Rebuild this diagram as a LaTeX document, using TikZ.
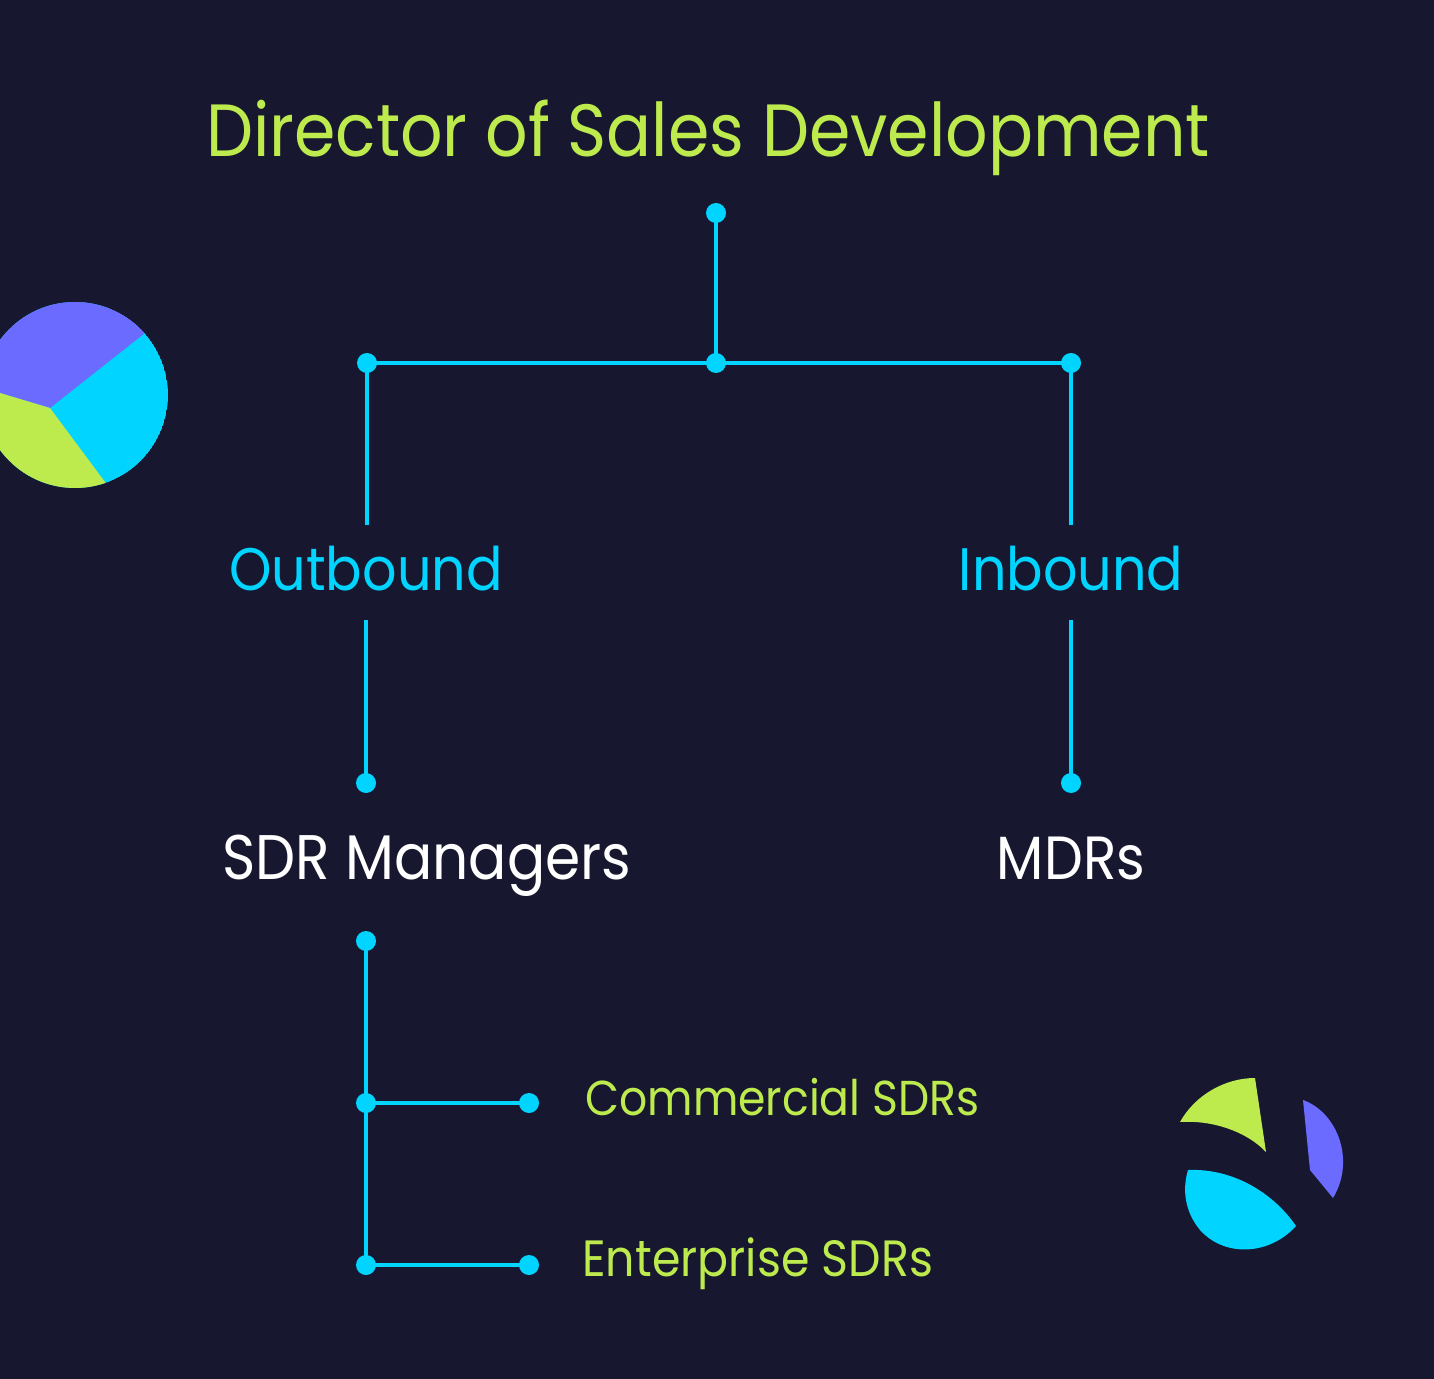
\documentclass[tikz,border=0pt]{standalone}
\usepackage{fontspec}
\setmainfont{Poppins}[FakeStretch=0.9]
\definecolor{bg}{HTML}{171730}
\definecolor{lime}{HTML}{BDEB4E}
\definecolor{cy}{HTML}{00D4FF}
\definecolor{pu}{HTML}{6B6BFF}
\tikzset{dotn/.style={circle,fill=cy,inner sep=0pt,minimum size=10pt},
 ln/.style={cy,line width=2pt},
 tl/.style={text=lime,inner sep=0pt},
 tc/.style={text=cy,inner sep=0pt},
 tw/.style={text=white,inner sep=0pt}}
\begin{document}
\begin{tikzpicture}[x=0.5pt,y=-0.5pt]
\fill[bg] (0,0) rectangle (1434,1379);
\useasboundingbox (0,0) rectangle (1434,1379);
% top-left pie
\begin{scope}
\clip (75,395) circle (93);
\fill[cy] (75,395) circle (93);
\fill[pu] (50,408) -- (145,333) -- (160,280) -- (-30,280) -- (-30,380) -- (0,393) -- cycle;
\fill[lime] (50,408) -- (0,393) -- (-30,380) -- (-30,520) -- (120,520) -- (105,482) -- cycle;
\end{scope}
% bottom-right fragments
\fill[lime] (1180,1122) .. controls (1195,1095) and (1225,1078) .. (1255,1078) -- (1266,1152) .. controls (1245,1130) and (1210,1120) .. cycle;
\fill[pu] (1303,1100) .. controls (1337,1112) and (1356,1160) .. (1333,1198) -- (1310,1170) -- cycle;
\fill[cy] (1188,1170) .. controls (1235,1168) and (1275,1195) .. (1296,1226) .. controls (1270,1255) and (1225,1258) .. (1200,1230) .. controls (1185,1212) and (1182,1190) .. cycle;
% texts
\node[tl,font=\fontsize{37}{44}\selectfont,anchor=base] (dir) at (708,157) {Director of Sales Development};
\node[tc,font=\fontsize{30}{36}\selectfont,anchor=base] (out) at (366,590) {Outbound};
\node[tc,font=\fontsize{30}{36}\selectfont,anchor=base] (inb) at (1071,590) {Inbound};
\node[tw,font=\fontsize{31.5}{36}\selectfont,anchor=base west] (sdr) at (222,879) {SDR Managers};
\node[tw,font=\fontsize{30.5}{36}\selectfont,anchor=base] (mdr) at (1071,879) {MDRs};
\node[tl,font=\fontsize{24.5}{30}\selectfont,anchor=base west] (com) at (585,1115) {Commercial SDRs};
\node[tl,font=\fontsize{25.5}{30}\selectfont,anchor=base west] (ent) at (582,1276) {Enterprise SDRs};
% dots
\node[dotn] (d0) at (716,213) {};
\node[dotn] (dm) at (716,363) {};
\node[dotn] (dl) at (367,363) {};
\node[dotn] (dr) at (1071,363) {};
\coordinate (ol) at (367,525);
\coordinate (or) at (1071,525);
\coordinate (ul) at (366,620);
\coordinate (ur) at (1071,620);
\node[dotn] (sl) at (366,783) {};
\node[dotn] (sr) at (1071,783) {};
\node[dotn] (b0) at (366,941) {};
\node[dotn] (b1) at (366,1103) {};
\node[dotn] (b2) at (366,1265) {};
\node[dotn] (c1) at (529,1103) {};
\node[dotn] (c2) at (529,1265) {};
\draw[ln] (d0.center) -- (dm.center);
\draw[ln] (dl.center) -- (dr.center);
\draw[ln] (dl.center) -- (ol);
\draw[ln] (dr.center) -- (or);
\draw[ln] (ul) -- (sl.center);
\draw[ln] (ur) -- (sr.center);
\draw[ln] (b0.center) -- (b2.center);
\draw[ln] (b1.center) -- (c1.center);
\draw[ln] (b2.center) -- (c2.center);
\end{tikzpicture}
\end{document}
